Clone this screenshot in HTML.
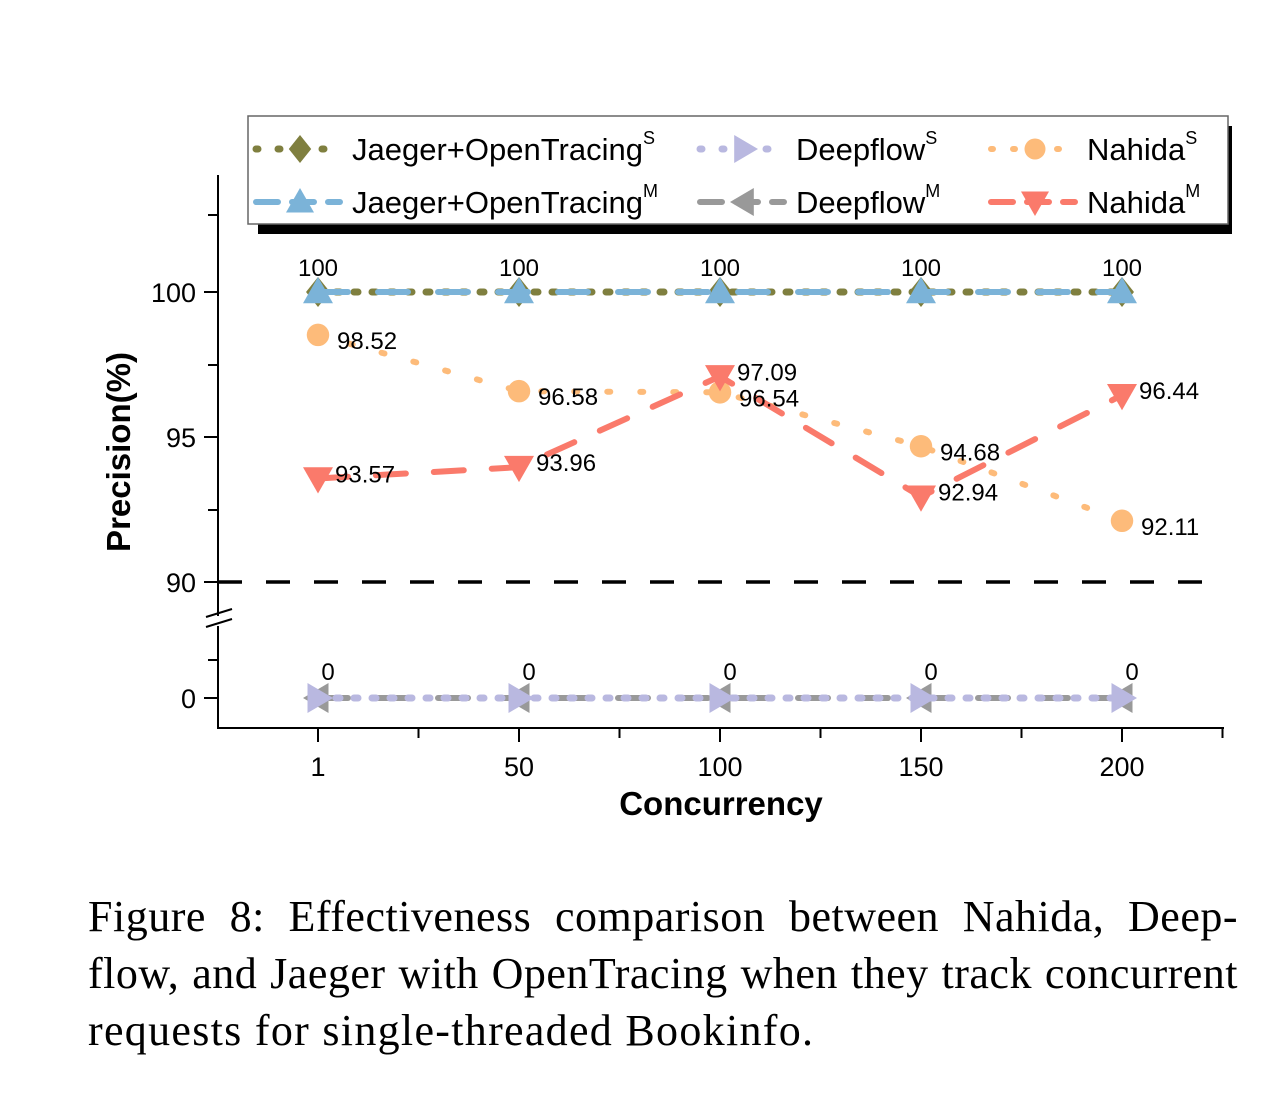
<!DOCTYPE html>
<html><head><meta charset="utf-8"><style>
body{margin:0;background:#fff;width:1280px;height:1114px;overflow:hidden;position:relative}
svg{position:absolute;left:0;top:0}
#cap{position:absolute;left:88px;top:888px;width:1150px;font-family:"Liberation Serif",serif;font-size:44px;letter-spacing:0.5px;line-height:57px;color:#000}
#cap div{text-align:justify;text-align-last:justify;white-space:nowrap}
#cap div.last{text-align-last:left;letter-spacing:1.3px}
</style></head><body>
<svg id="chart" width="1280" height="880" xmlns="http://www.w3.org/2000/svg"></svg>
<div id="cap"><div>Figure 8: Effectiveness comparison between Nahida, Deep-</div><div>flow, and Jaeger with OpenTracing when they track concurrent</div><div class="last">requests for single-threaded Bookinfo.</div></div>
<script>
const categories=["1","50","100","150","200"];
const jaegerS=[100,100,100,100,100];
const jaegerM=[100,100,100,100,100];
const deepS=[0,0,0,0,0];
const deepM=[0,0,0,0,0];
const nahidaS=[98.52,96.58,96.54,94.68,92.11];
const nahidaM=[93.57,93.96,97.09,92.94,96.44];
const yTicksUpper=[90,95,100];
const yTicksLower=[0];

const svg=document.getElementById('chart');
const NS='http://www.w3.org/2000/svg';
function mk(tag,attrs,parent){const e=document.createElementNS(NS,tag);for(const k in attrs)e.setAttribute(k,attrs[k]);(parent||svg).appendChild(e);return e;}
function xs(i){return 318+i*201;}
function ys(v){return v>=50?292+(100-v)*29:698-v*29;}

let g=mk('g',{});

mk('line',{x1:218,y1:175,x2:218,y2:616,stroke:'#000','stroke-width':2},g);
mk('line',{x1:218,y1:626,x2:218,y2:729,stroke:'#000','stroke-width':2},g);
mk('line',{x1:206,y1:617,x2:232,y2:609,stroke:'#000','stroke-width':2},g);
mk('line',{x1:206,y1:627,x2:232,y2:619,stroke:'#000','stroke-width':2},g);
mk('line',{x1:217,y1:728,x2:1224,y2:728,stroke:'#000','stroke-width':2},g);
[215,365,510,660].forEach(y=>mk('line',{x1:208,y1:y,x2:218,y2:y,stroke:'#000','stroke-width':2},g));
yTicksUpper.concat(yTicksLower).forEach(v=>{
  const y=ys(v);
  mk('line',{x1:204,y1:y,x2:218,y2:y,stroke:'#000','stroke-width':2},g);
  const t=mk('text',{x:196,y:y+10,'text-anchor':'end','font-size':27,'font-family':'Liberation Sans,sans-serif'},g);
  t.textContent=v;
  
});
categories.forEach((c,i)=>{
  const x=xs(i);
  mk('line',{x1:x,y1:728,x2:x,y2:742,stroke:'#000','stroke-width':2},g);
  mk('line',{x1:x+100.5,y1:728,x2:x+100.5,y2:738,stroke:'#000','stroke-width':2},g);
  const t=mk('text',{x:x,y:776,'text-anchor':'middle','font-size':27,'font-family':'Liberation Sans,sans-serif'},g);
  t.textContent=c;
  
});
let t=mk('text',{x:721,y:815,'text-anchor':'middle','font-size':33,'font-weight':'bold','font-family':'Liberation Sans,sans-serif'});
t.textContent='Concurrency';
t=mk('text',{x:0,y:0,'text-anchor':'middle','font-size':33,'font-weight':'bold','font-family':'Liberation Sans,sans-serif',transform:'translate(130,452) rotate(-90)'});
t.textContent='Precision(%)';
t=mk('line',{x1:218,y1:582,x2:1210,y2:582,stroke:'#000','stroke-width':3.5,'stroke-dasharray':'24 24'});


function marker(type,x,y,color,s,parent){
  if(type==='diamond')return mk('polygon',{points:`${x},${y-s} ${x+s*0.8},${y} ${x},${y+s} ${x-s*0.8},${y}`,fill:color},parent);
  if(type==='up')return mk('polygon',{points:`${x},${y-s} ${x+s},${y+s*0.75} ${x-s},${y+s*0.75}`,fill:color},parent);
  if(type==='down')return mk('polygon',{points:`${x},${y+s} ${x+s},${y-s*0.75} ${x-s},${y-s*0.75}`,fill:color},parent);
  if(type==='right')return mk('polygon',{points:`${x+s},${y} ${x-s*0.7},${y-s} ${x-s*0.7},${y+s}`,fill:color},parent);
  if(type==='left')return mk('polygon',{points:`${x-s},${y} ${x+s*0.7},${y-s} ${x+s*0.7},${y+s}`,fill:color},parent);
  return mk('circle',{cx:x,cy:y,r:s*0.75,fill:color},parent);
}
function series(name,vals,color,dash,width,mtype){
  const sg=mk('g',{});
  
  const pts=vals.map((v,i)=>xs(i)+','+ys(v)).join(' ');
  mk('polyline',{points:pts,fill:'none',stroke:color,'stroke-width':width,'stroke-dasharray':dash,'stroke-linecap':'round'},sg);
  vals.forEach((v,i)=>{const m=marker(mtype,xs(i),ys(v),color,15,sg);
    });
}
series('jaeger-s-series',jaegerS,'#7f7f3f','4 14',7,'diamond');
series('jaeger-m-series',jaegerM,'#7bb3d8','30 30',6,'up');
series('deepflow-m-series',deepM,'#999','30 30',6,'left');
series('deepflow-s-series',deepS,'#b9b8e0','4 14',7,'right');
series('nahida-s-series',nahidaS,'#fdbb7a','3 30',6,'circle');
series('nahida-m-series',nahidaM,'#fa7a6b','30 28',6,'down');

function label(txt,x,y,anchor){const l=mk('text',{x:x,y:y,'text-anchor':anchor||'start','font-size':24,'font-family':'Liberation Sans,sans-serif'});
  l.textContent=txt;}
jaegerS.forEach((v,i)=>label(v,xs(i),ys(v)-16,'middle'));
deepS.forEach((v,i)=>label(v,xs(i)+10,ys(v)-18,'middle'));
nahidaS.forEach((v,i)=>label(v.toFixed(2),xs(i)+19,ys(v)+14));
nahidaM.forEach((v,i)=>label(v.toFixed(2),xs(i)+17,ys(v)+4));

const lg=mk('g',{});

mk('rect',{x:258,y:126,width:974,height:108,fill:'#000'},lg);
mk('rect',{x:248,y:116,width:980,height:108,fill:'#fff',stroke:'#666','stroke-width':1.5},lg);
const legItems=[
 ['Jaeger+OpenTracing','S',256,149,'#7f7f3f','2 20',7,'diamond'],
 ['Deepflow','S',700,149,'#b9b8e0','2 20',7,'right'],
 ['Nahida','S',991,149,'#fdbb7a','2 20',6,'circle'],
 ['Jaeger+OpenTracing','M',256,202,'#7bb3d8','22 14',6,'up'],
 ['Deepflow','M',700,202,'#999','22 14',6,'left'],
 ['Nahida','M',991,202,'#fa7a6b','22 14',6,'down']];
legItems.forEach(it=>{
  const [name,sup,x,y,c,d,w,m]=it;
  const eg=mk('g',{},lg);
  
  mk('line',{x1:x,y1:y,x2:x+84,y2:y,stroke:c,'stroke-width':w,'stroke-dasharray':d,'stroke-linecap':'round'},eg);
  marker(m,x+44,y,c,14,eg);
  const tx=mk('text',{x:x+96,y:y+11,'font-size':31,'font-family':'Liberation Sans,sans-serif'},eg);
  tx.textContent=name;
  const ts=mk('tspan',{dy:-16,'font-size':18},tx);ts.textContent=sup;
});
</script>
</body></html>
